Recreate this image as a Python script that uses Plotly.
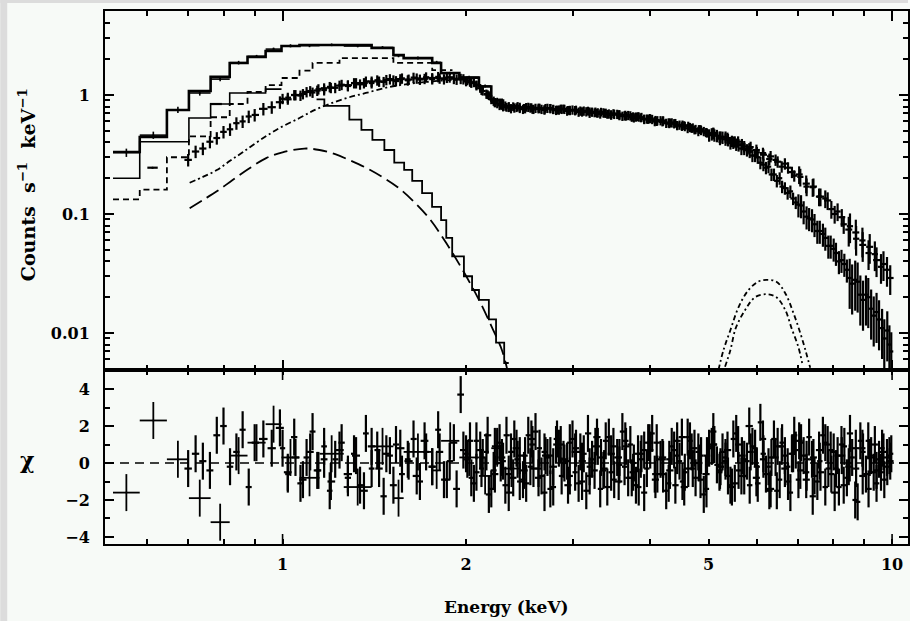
import numpy as np
import plotly.graph_objects as go
from plotly.subplots import make_subplots

# ---------------- data ----------------
# dataset A (coarse bins): model histogram, data, relative errors, residuals
edgesA = [0.527, 0.583, 0.646, 0.702, 0.762, 0.819, 0.876, 0.938, 0.996, 1.066, 1.15,
          1.26, 1.40, 1.52, 1.58, 1.76, 1.82, 1.95, 2.10, 2.20, 2.30, 2.45]
modelA = [0.332, 0.444, 0.748, 1.08, 1.42, 1.86, 2.09, 2.34, 2.58, 2.63, 2.63,
          2.63, 2.48, 2.17, 2.04, 1.86, 1.53, 1.40, 1.18, 0.90, 0.80]
dataA = [0.328, 0.46, 0.75, 1.04, 1.36, 1.87, 2.11, 2.43, 2.59, 2.60, 2.64,
         2.58, 2.51, 2.14, 2.05, 1.88, 1.52, 1.41, 1.19, 0.92, 0.80]
relerrA = [0.08, 0.07, 0.06, 0.05, 0.04, 0.035, 0.03, 0.03, 0.03, 0.03, 0.025,
           0.025, 0.025, 0.03, 0.03, 0.03, 0.03, 0.03, 0.03, 0.03, 0.03]
resA = [-1.6, 2.3, 0.2, -1.9, -3.2, 0.4, 1.1, 2.1, 0.3, -0.8, 0.5,
        -1.3, 0.9, -1.9, 0.6, -0.4, 1.2, 0.3, -0.7, 0.8, -0.3]

# dataset B model (dashed histogram)
edgesB = [0.527, 0.583, 0.646, 0.702, 0.762, 0.819, 0.876, 0.938, 0.996, 1.066,
          1.12, 1.24, 1.52, 1.76, 1.90]
modelB = [0.133, 0.16, 0.30, 0.45, 0.65, 0.84, 1.06, 1.21, 1.39, 1.60,
          1.86, 2.04, 1.86, 1.62]
# dataset C model (thin solid histogram)
edgesC = [0.527, 0.583, 0.702, 0.762, 0.819, 0.938, 0.996]
modelC = [0.20, 0.405, 0.64, 0.84, 1.04, 1.12]
# a couple of isolated data bars
dataB_lo = [0.600, 0.760]
dataB_hi = [0.624, 0.795]
dataB = [0.245, 0.84]

# dataset 1 (fine bins, 0.7-10 keV)
E1 = [0.70, 0.72, 0.74, 0.76, 0.78, 0.80, 0.82, 0.84, 0.86, 0.88, 0.90, 0.93, 0.96, 0.99,
      1.02, 1.05, 1.08, 1.11, 1.14, 1.17, 1.20, 1.24, 1.28, 1.32, 1.36, 1.40, 1.44, 1.48,
      1.52, 1.56, 1.61, 1.66, 1.71, 1.76, 1.81, 1.86, 1.91, 1.96, 2.01, 2.06, 2.11, 2.17,
      2.23, 2.29, 2.35, 2.42, 2.49, 2.56, 2.63, 2.70, 2.78, 2.86, 2.94, 3.02, 3.10, 3.19,
      3.28, 3.37, 3.46, 3.56, 3.66, 3.76, 3.87, 3.98, 4.09, 4.20, 4.32, 4.44, 4.56, 4.69,
      4.82, 4.95, 5.09, 5.23, 5.37, 5.52, 5.67, 5.83, 5.99, 6.15, 6.32, 6.49, 6.67, 6.85,
      7.04, 7.23, 7.43, 7.63, 7.84, 8.05, 8.27, 8.49, 8.72, 8.95, 9.19, 9.43, 9.68, 9.93]
V1 = [0.285, 0.335, 0.355, 0.405, 0.435, 0.49, 0.515, 0.58, 0.60, 0.66, 0.68, 0.765, 0.79, 0.87,
      0.92, 1.00, 1.02, 1.08, 1.09, 1.14, 1.15, 1.20, 1.21, 1.26, 1.26, 1.30, 1.30, 1.34,
      1.33, 1.36, 1.35, 1.38, 1.37, 1.39, 1.38, 1.40, 1.37, 1.37, 1.32, 1.27, 1.14, 1.01,
      0.87, 0.82, 0.785, 0.785, 0.775, 0.785, 0.765, 0.775, 0.755, 0.765, 0.745, 0.745, 0.725, 0.725,
      0.705, 0.705, 0.685, 0.685, 0.665, 0.66, 0.645, 0.625, 0.615, 0.595, 0.585, 0.555, 0.555, 0.525,
      0.515, 0.485, 0.475, 0.445, 0.435, 0.405, 0.385, 0.355, 0.345, 0.315, 0.305, 0.275, 0.265, 0.225,
      0.215, 0.18, 0.17, 0.14, 0.13, 0.10, 0.094, 0.074, 0.07, 0.055, 0.053, 0.041, 0.038, 0.029]
R1 = [-0.3, 0.5, 0.1, -0.4, 1.5, 2.0, -0.2, 0.6, 1.8, -1.3, 1.1, 1.3, 0.8, 1.9,
      -0.5, 0.3, -0.9, 0.6, -0.4, 0.2, -1.0, 0.7, -0.6, 0.4, -1.5, 0.9, -0.3, 0.5,
      -1.2, 0.8, 0.1, -0.7, 1.2, -0.2, 0.6, -0.9, 1.1, 3.7, 0.2, -1.1, 0.7, 1.5,
      -0.6, 0.3, -1.6, 0.8, -0.4, 1.3, -0.8, 0.4, -0.2, 1.0, -1.2, 0.6, 0.1, -0.7,
      1.4, -0.3, 0.5, -1.0, 0.9, -0.5, 0.2, 1.1, -0.9, 0.3, -0.4, 1.2, -1.3, 0.6,
      0.0, -0.6, 1.0, -0.2, 0.7, -1.1, 0.4, 2.0, -0.8, 0.2, -1.4, 0.9, -0.3, 0.5,
      1.2, -0.9, 0.3, -0.5, 1.0, -1.6, 0.4, -0.2, 0.8, -0.7, 0.3, -0.4, 0.6, 0.1]
err1_breaks = [1.0, 2.0, 5.0, 7.0, 8.4]
err1_levels = [0.12, 0.10, 0.085, 0.11, 0.17, 0.28]

# dataset 2 (fine bins, 2-10 keV, lower branch at high energy)
E2 = [2.00, 2.04, 2.08, 2.12, 2.16, 2.20, 2.25, 2.30, 2.35, 2.40, 2.45, 2.50, 2.55, 2.60,
      2.66, 2.72, 2.78, 2.84, 2.90, 2.96, 3.02, 3.08, 3.15, 3.22, 3.29, 3.36, 3.43, 3.50,
      3.57, 3.64, 3.72, 3.80, 3.88, 3.96, 4.04, 4.12, 4.21, 4.30, 4.39, 4.48, 4.57, 4.66,
      4.76, 4.86, 4.96, 5.06, 5.16, 5.27, 5.38, 5.49, 5.60, 5.72, 5.84, 5.96, 6.08, 6.21,
      6.34, 6.47, 6.60, 6.74, 6.88, 7.02, 7.16, 7.31, 7.46, 7.61, 7.77, 7.93, 8.09, 8.26,
      8.43, 8.60, 8.78, 8.96, 9.14, 9.33, 9.52, 9.71, 9.90]
V2 = [1.30, 1.26, 1.20, 1.10, 1.02, 0.92, 0.85, 0.80, 0.80, 0.78, 0.79, 0.77, 0.78, 0.775,
      0.76, 0.775, 0.76, 0.75, 0.76, 0.745, 0.74, 0.735, 0.725, 0.72, 0.71, 0.71, 0.695, 0.69,
      0.685, 0.67, 0.67, 0.655, 0.65, 0.63, 0.625, 0.61, 0.605, 0.585, 0.575, 0.56, 0.545, 0.535,
      0.515, 0.505, 0.485, 0.47, 0.455, 0.44, 0.42, 0.40, 0.38, 0.355, 0.335, 0.31, 0.27, 0.245,
      0.215, 0.19, 0.17, 0.15, 0.135, 0.12, 0.105, 0.092, 0.082, 0.072, 0.063, 0.054, 0.047, 0.041,
      0.034, 0.026, 0.027, 0.019, 0.020, 0.014, 0.013, 0.009, 0.008]
R2 = [0.5, -0.8, 1.2, -0.3, 0.6, -1.4, 0.9, 0.1, -0.6, 1.3, -1.0, 0.4, -0.2, 1.7,
      -0.7, 0.3, -1.3, 0.8, 0.0, 1.1, -0.5, 0.6, -1.5, 0.2, 0.9, -0.4, 1.4, -0.9,
      0.3, -0.2, 1.0, -1.2, 0.5, -0.3, 1.6, -0.6, 0.2, -1.1, 0.7, 0.1, -0.5, 1.2,
      -0.8, 0.4, -1.4, 0.9, -0.1, 0.6, -0.7, 1.3, -0.4, 0.2, -1.2, 0.8, 2.2, -0.6,
      0.3, -1.5, 1.1, -0.2, 0.5, -0.9, 0.4, 1.4, -0.7, 0.1, -1.3, 0.7, -0.3, 1.0,
      -0.8, 0.3, -2.1, 0.6, 1.2, -0.5, 0.2, -0.9, 0.4]
err2_breaks = [5.0, 7.0, 8.5]
err2_levels = [0.09, 0.12, 0.22, 0.45]

# dataset 3 (fine bins, 1-10 keV, upper branch at high energy)
E3 = [1.00, 1.02, 1.045, 1.07, 1.095, 1.12, 1.145, 1.17, 1.195, 1.22,
      1.25, 1.28, 1.31, 1.34, 1.37, 1.40, 1.43, 1.465, 1.50, 1.535,
      1.57, 1.605, 1.64, 1.68, 1.72, 1.76, 1.80, 1.84, 1.88, 1.93,
      1.98, 2.03, 2.08, 2.13, 2.18, 2.23, 2.28, 2.33, 2.39, 2.45,
      2.51, 2.57, 2.63, 2.69, 2.75, 2.82, 2.89, 2.96, 3.03, 3.10,
      3.17, 3.25, 3.33, 3.41, 3.49, 3.57, 3.65, 3.74, 3.83, 3.92,
      4.01, 4.11, 4.21, 4.31, 4.41, 4.52, 4.63, 4.74, 4.85, 4.97,
      5.09, 5.21, 5.33, 5.46, 5.59, 5.72, 5.86, 6.00, 6.14, 6.29,
      6.44, 6.59, 6.75, 6.91, 7.07, 7.24, 7.41, 7.59, 7.77, 7.95,
      8.14, 8.33, 8.53, 8.73, 8.94, 9.15, 9.37, 9.59, 9.81]
V3 = [0.93, 0.95, 1.00, 0.99, 1.06, 1.05, 1.12, 1.10, 1.17, 1.15,
      1.22, 1.19, 1.26, 1.23, 1.30, 1.26, 1.33, 1.29, 1.36, 1.31,
      1.38, 1.33, 1.40, 1.35, 1.41, 1.36, 1.42, 1.36, 1.41, 1.35,
      1.36, 1.28, 1.22, 1.08, 0.99, 0.86, 0.83, 0.79, 0.80, 0.77,
      0.79, 0.76, 0.78, 0.755, 0.775, 0.75, 0.765, 0.74, 0.75, 0.72,
      0.735, 0.71, 0.72, 0.69, 0.70, 0.67, 0.68, 0.65, 0.66, 0.63,
      0.635, 0.60, 0.61, 0.575, 0.58, 0.545, 0.55, 0.51, 0.515, 0.48,
      0.48, 0.445, 0.445, 0.41, 0.405, 0.37, 0.365, 0.33, 0.325, 0.29,
      0.285, 0.25, 0.245, 0.21, 0.205, 0.17, 0.168, 0.14, 0.135, 0.11,
      0.105, 0.082, 0.079, 0.062, 0.060, 0.047, 0.046, 0.036, 0.034]
R3 = [0.8, -0.6, 1.4, -1.1, 0.3, 1.7, -0.4, 0.9, -1.5, 0.2,
      1.1, -0.8, 0.5, -1.2, 1.6, -0.3, 0.7, -1.8, 0.4, 1.0,
      -0.6, 0.2, 1.3, -1.0, 0.6, -0.2, 1.8, -0.9, 0.1, -1.4,
      0.7, 1.2, -0.5, 0.3, -1.7, 0.9, 0.0, 1.5, -0.8, 0.4,
      -1.1, 1.0, -0.3, 0.6, -1.4, 1.3, 0.2, -0.7, 0.8, -1.0,
      1.6, -0.4, 0.3, -1.3, 0.9, -0.1, 1.2, -0.8, 0.5, -1.6,
      0.7, 1.1, -0.6, 0.2, -1.2, 1.4, -0.3, 0.8, -0.9, 0.4,
      1.7, -0.5, 0.1, -1.3, 1.0, -0.7, 0.6, -0.2, 1.3, -1.5,
      0.3, 0.9, -1.0, 1.5, -0.4, 0.2, -1.8, 0.7, 1.1, -0.6,
      0.4, -1.2, 1.6, -0.3, 0.8, -1.4, 1.0, -0.5, 0.3]
err3_breaks = [2.0, 5.0, 7.0, 8.4]
err3_levels = [0.10, 0.085, 0.11, 0.17, 0.28]

# dataset 4 (fine bins, 2.2-10 keV, lower branch at high energy)
E4 = [2.22, 2.27, 2.32, 2.37, 2.43, 2.48, 2.53, 2.58, 2.64, 2.69,
      2.75, 2.81, 2.87, 2.93, 2.99, 3.06, 3.12, 3.19, 3.26, 3.32,
      3.39, 3.46, 3.54, 3.61, 3.69, 3.77, 3.84, 3.92, 4.00, 4.08,
      4.17, 4.26, 4.35, 4.44, 4.53, 4.62, 4.71, 4.81, 4.91, 5.01,
      5.11, 5.22, 5.33, 5.43, 5.55, 5.66, 5.78, 5.90, 6.02, 6.15,
      6.27, 6.40, 6.54, 6.67, 6.81, 6.95, 7.09, 7.24, 7.39, 7.54,
      7.70, 7.86, 8.02, 8.18, 8.35, 8.52, 8.70, 8.87, 9.06, 9.24,
      9.43, 9.63, 9.82, 9.97]
V4 = [0.89, 0.82, 0.81, 0.77, 0.80, 0.76, 0.79, 0.76, 0.775, 0.75,
      0.77, 0.745, 0.76, 0.735, 0.75, 0.72, 0.735, 0.705, 0.72, 0.695,
      0.705, 0.68, 0.69, 0.665, 0.675, 0.645, 0.655, 0.625, 0.635, 0.60,
      0.61, 0.58, 0.585, 0.555, 0.56, 0.525, 0.53, 0.495, 0.495, 0.46,
      0.46, 0.43, 0.425, 0.395, 0.385, 0.355, 0.345, 0.31, 0.30, 0.26,
      0.25, 0.215, 0.20, 0.165, 0.155, 0.125, 0.118, 0.095, 0.09, 0.072,
      0.068, 0.054, 0.051, 0.040, 0.038, 0.029, 0.028, 0.021, 0.021, 0.016,
      0.015, 0.011, 0.0105, 0.007]
R4 = [-0.4, 1.1, -1.2, 0.6, 0.2, -0.9, 1.5, -0.3, 0.8, -1.6,
      0.4, 1.0, -0.7, 0.1, 1.3, -1.1, 0.5, -0.2, 0.9, -1.4,
      1.2, -0.5, 0.3, 1.7, -0.8, 0.0, -1.3, 0.7, 1.1, -0.6,
      0.2, -1.5, 0.9, 0.4, -1.0, 1.4, -0.3, 0.6, -1.7, 0.8,
      1.0, -0.4, 0.3, -1.2, 1.6, -0.7, 0.1, 0.9, -1.1, 0.5,
      -0.2, 1.3, -0.9, 0.4, -1.6, 0.7, 1.1, -0.5, 0.2, -1.0,
      1.5, -0.3, 0.6, -1.3, 0.9, 0.0, -2.0, 1.2, -0.6, 0.4,
      -1.1, 0.8, -0.2, 0.5]
err4_breaks = [5.0, 7.0, 8.5]
err4_levels = [0.09, 0.12, 0.22, 0.45]

# model components
pl_E = [0.704, 0.74, 0.78, 0.82, 0.86, 0.92, 0.99, 1.066, 1.13, 1.20, 1.28, 1.37, 1.50, 1.63, 1.76, 1.90, 2.05]
pl_V = [0.183, 0.205, 0.234, 0.28, 0.33, 0.42, 0.53, 0.64, 0.75, 0.85, 0.95, 1.04, 1.17, 1.25, 1.30, 1.34, 1.36]
ld_E = [0.704, 0.74, 0.78, 0.828, 0.88, 0.94, 1.00, 1.086, 1.15, 1.22, 1.287, 1.37, 1.457, 1.545,
        1.632, 1.74, 1.856, 1.98, 2.10, 2.20, 2.29, 2.34]
ld_V = [0.112, 0.131, 0.155, 0.193, 0.24, 0.295, 0.33, 0.355, 0.345, 0.318, 0.284, 0.245, 0.205, 0.168,
        0.131, 0.092, 0.057, 0.033, 0.019, 0.0115, 0.0072, 0.0048]
edgesS = [1.137, 1.171, 1.287, 1.347, 1.404, 1.469, 1.525, 1.583, 1.632, 1.694, 1.759, 1.82,
          1.856, 1.898, 1.984, 2.046, 2.10, 2.18, 2.24, 2.31, 2.35]
valsS = [0.92, 0.81, 0.62, 0.51, 0.42, 0.345, 0.27, 0.235, 0.19, 0.15, 0.115, 0.089,
         0.063, 0.044, 0.03, 0.023, 0.019, 0.013, 0.0083, 0.0056]
g1_E = [5.19, 5.29, 5.43, 5.60, 5.81, 6.03, 6.22, 6.46, 6.68, 6.89, 7.07, 7.23, 7.34]
g1_V = [0.0049, 0.0072, 0.0106, 0.0165, 0.0229, 0.027, 0.028, 0.027, 0.0216, 0.0147, 0.010, 0.0068, 0.0051]
g2_E = [5.32, 5.43, 5.54, 5.74, 5.96, 6.22, 6.46, 6.68, 6.84, 7.02, 7.12]
g2_V = [0.0052, 0.0072, 0.011, 0.0156, 0.020, 0.0212, 0.020, 0.0156, 0.011, 0.0076, 0.0056]

x_ticks = [1, 2, 5, 10]
x_ticktext = ['1', '2', '5', '10']
y1_ticks = [0.01, 0.1, 1]
y1_ticktext = ['0.01', '0.1', '1']
y2_ticks = [-4, -2, 0, 2, 4]
y2_ticktext = ['\u22124', '\u22122', '0', '2', '4']

# ---------------- helpers ----------------
def bin_bounds(centers):
    c = np.asarray(centers, float)
    mids = np.sqrt(c[:-1] * c[1:])
    lo = np.concatenate([[c[0] ** 2 / mids[0]], mids])
    hi = np.concatenate([mids, [c[-1] ** 2 / mids[-1]]])
    return lo, hi

def steps(edges, vals):
    return list(edges), list(vals) + [vals[-1]]

INK = 'black'
FONT = dict(family='DejaVu Serif', size=16, color=INK, weight='bold')

fig = make_subplots(rows=2, cols=1, shared_xaxes=True, vertical_spacing=0,
                    row_heights=[359 / 533, 174 / 533])

def cross_trace(x, y, xlo, xhi, ylo, yhi, row, thick=2.2):
    x = np.asarray(x, float); y = np.asarray(y, float)
    fig.add_trace(go.Scatter(
        x=x, y=y, mode='markers', marker=dict(size=2, color=INK),
        error_x=dict(type='data', symmetric=False, array=np.asarray(xhi) - x,
                     arrayminus=x - np.asarray(xlo), color=INK, thickness=thick, width=0),
        error_y=dict(type='data', symmetric=False, array=np.asarray(yhi) - y,
                     arrayminus=y - np.asarray(ylo), color=INK, thickness=thick, width=0),
        showlegend=False, hoverinfo='skip'), row=row, col=1)

# ---- upper panel ----
xs, ys = steps(edgesA, modelA)
fig.add_trace(go.Scatter(x=xs, y=ys, mode='lines', line=dict(color=INK, width=2.6, shape='hv'),
                         showlegend=False), row=1, col=1)
xs, ys = steps(edgesC, modelC)
fig.add_trace(go.Scatter(x=xs, y=ys, mode='lines', line=dict(color=INK, width=1.6, shape='hv'),
                         showlegend=False), row=1, col=1)
xs, ys = steps(edgesB, modelB)
fig.add_trace(go.Scatter(x=xs, y=ys, mode='lines', line=dict(color=INK, width=1.8, shape='hv', dash='6px,4px'),
                         showlegend=False), row=1, col=1)
xs, ys = steps(edgesS, valsS)
fig.add_trace(go.Scatter(x=xs, y=ys, mode='lines', line=dict(color=INK, width=1.8, shape='hv'),
                         showlegend=False), row=1, col=1)
fig.add_trace(go.Scatter(x=pl_E, y=pl_V, mode='lines', line=dict(color=INK, width=1.8, shape='spline', dash='6px,3px,2px,3px'),
                         showlegend=False), row=1, col=1)
fig.add_trace(go.Scatter(x=ld_E, y=ld_V, mode='lines', line=dict(color=INK, width=1.8, shape='spline', dash='14px,6px'),
                         showlegend=False), row=1, col=1)
for gx, gy in ((g1_E, g1_V), (g2_E, g2_V)):
    fig.add_trace(go.Scatter(x=gx, y=gy, mode='lines', line=dict(color=INK, width=1.8, shape='spline', dash='5px,3px,2px,3px'),
                             showlegend=False), row=1, col=1)

# dataset A crosses
cA = np.sqrt(np.array(edgesA[:-1]) * np.array(edgesA[1:]))
dA = np.array(dataA); rA = np.array(relerrA)
cross_trace(cA, dA, edgesA[:-1], edgesA[1:], dA * (1 - rA), dA * (1 + rA), 1, 1.6)
cB = np.sqrt(np.array(dataB_lo) * np.array(dataB_hi))
cross_trace(cB, dataB, dataB_lo, dataB_hi, np.array(dataB) * 0.985, np.array(dataB) * 1.015, 1)

def band(E, V, breaks, levels, R):
    lo, hi = bin_bounds(E)
    r = np.array(levels)[np.searchsorted(breaks, E)]
    v = np.array(V, float)
    cross_trace(E, v, lo, hi, v * (1 - r), v * (1 + r), 1)
    Ra = np.array(R, float)
    cross_trace(E, Ra, lo, hi, Ra - 1, Ra + 1, 2)

# ---- lower panel (residuals) ----
rAa = np.array(resA, float)
cross_trace(cA, rAa, edgesA[:-1], edgesA[1:], rAa - 1, rAa + 1, 2, 1.8)
band(E1, V1, err1_breaks, err1_levels, R1)
band(E2, V2, err2_breaks, err2_levels, R2)
band(E3, V3, err3_breaks, err3_levels, R3)
band(E4, V4, err4_breaks, err4_levels, R4)

fig.add_shape(type='line', xref='x2 domain', yref='y2', x0=0, x1=1, y0=0, y1=0,
              line=dict(color=INK, width=1.6, dash='9px,6px'), layer='below')

# ---- axes ----
xr = [np.log10(0.5113), np.log10(10.62)]
ax_common = dict(type='log', range=xr, showline=True, linewidth=2, linecolor=INK, mirror='ticks',
                 ticks='inside', tickwidth=1.6, tickcolor=INK, showgrid=False, zeroline=False,
                 tickfont=FONT)
fig.update_xaxes(**ax_common, tickvals=[1, 10], ticklen=10, showticklabels=False,
                 minor=dict(tickvals=[0.6, 0.7, 0.8, 0.9, 2, 3, 4, 5, 6, 7, 8, 9], ticklen=5,
                            ticks='inside', tickwidth=1.6, tickcolor=INK, showgrid=False),
                 row=1, col=1)
fig.update_xaxes(**ax_common, tickvals=x_ticks, ticktext=x_ticktext, ticklen=5,
                 ticklabelstandoff=5,
                 minor=dict(tickvals=[0.6, 0.7, 0.8, 0.9, 3, 4, 6, 7, 8, 9], ticklen=5,
                            ticks='inside', tickwidth=1.6, tickcolor=INK, showgrid=False),
                 row=2, col=1)
y1_minor = [0.006, 0.007, 0.008, 0.009, 0.02, 0.03, 0.04, 0.05, 0.06, 0.07, 0.08, 0.09,
            0.2, 0.3, 0.4, 0.5, 0.6, 0.7, 0.8, 0.9, 2, 3, 4, 5]
fig.update_yaxes(type='log', range=[np.log10(0.00489), np.log10(5.08)], tickvals=y1_ticks,
                 ticktext=y1_ticktext, ticks='inside', ticklen=9, tickwidth=1.6, tickcolor=INK,
                 showline=True, linewidth=2, linecolor=INK, mirror='ticks', showgrid=False,
                 zeroline=False, tickfont=FONT, ticklabelstandoff=10,
                 minor=dict(tickvals=y1_minor, ticklen=5, ticks='inside', tickwidth=1.6,
                            tickcolor=INK, showgrid=False),
                 row=1, col=1)
fig.update_yaxes(range=[-4.38, 5.03], tickvals=y2_ticks, ticktext=y2_ticktext, ticks='inside',
                 ticklen=9, tickwidth=1.6, tickcolor=INK, showline=True, linewidth=2, linecolor=INK,
                 mirror='ticks', showgrid=False, zeroline=False, tickfont=FONT, ticklabelstandoff=10,
                 minor=dict(tickvals=[-3, -1, 1, 3], ticklen=5, ticks='inside', tickwidth=1.6,
                            tickcolor=INK, showgrid=False),
                 row=2, col=1)

# long x ticks at decades on the residual panel
for xv in (1, 10):
    fig.add_shape(type='line', xref='x2', yref='y2 domain', x0=xv, x1=xv, y0=0, y1=10 / 174,
                  line=dict(color=INK, width=1.6))
    fig.add_shape(type='line', xref='x2', yref='y2 domain', x0=xv, x1=xv, y0=1 - 10 / 174, y1=1,
                  line=dict(color=INK, width=1.6))

# grey frame strips of the original image
PW, L = 805.0, 105.0
def px(p):
    return (p - L) / PW
def py(p):
    return (544.0 - p) / 533.0
fig.add_shape(type='rect', xref='paper', yref='paper', x0=px(0), x1=px(7), y0=py(621), y1=py(0),
              fillcolor='#dcdcdc', line=dict(width=0), layer='below')
fig.add_shape(type='rect', xref='paper', yref='paper', x0=px(0), x1=px(910), y0=py(3), y1=py(0),
              fillcolor='#dcdcdc', line=dict(width=0), layer='below')

TFONT = dict(family='DejaVu Serif', size=17, color=INK, weight='bold')
fig.add_annotation(text='Energy (keV)', xref='paper', yref='paper', x=px(507), y=py(607),
                   showarrow=False, font=TFONT, xanchor='center', yanchor='middle')
fig.add_annotation(text='Counts\u00a0 s<sup>\u22121</sup>\u00a0 keV<sup>\u22121</sup>', xref='paper', yref='paper',
                   x=px(27), y=py(185), showarrow=False,
                   font=dict(family='DejaVu Serif', size=19, color=INK, weight='bold'), textangle=-90,
                   xanchor='center', yanchor='middle')
fig.add_annotation(text='\u03c7', xref='paper', yref='paper', x=px(27), y=py(460),
                   showarrow=False, font=dict(family='DejaVu Serif', size=22, color=INK, weight='bold'),
                   xanchor='center', yanchor='middle')

fig.update_layout(width=910, height=621, margin=dict(l=105, r=0, t=11, b=77),
                  paper_bgcolor='#f7faf7', plot_bgcolor='#f7faf7', showlegend=False)

fig.write_html('out.html')
